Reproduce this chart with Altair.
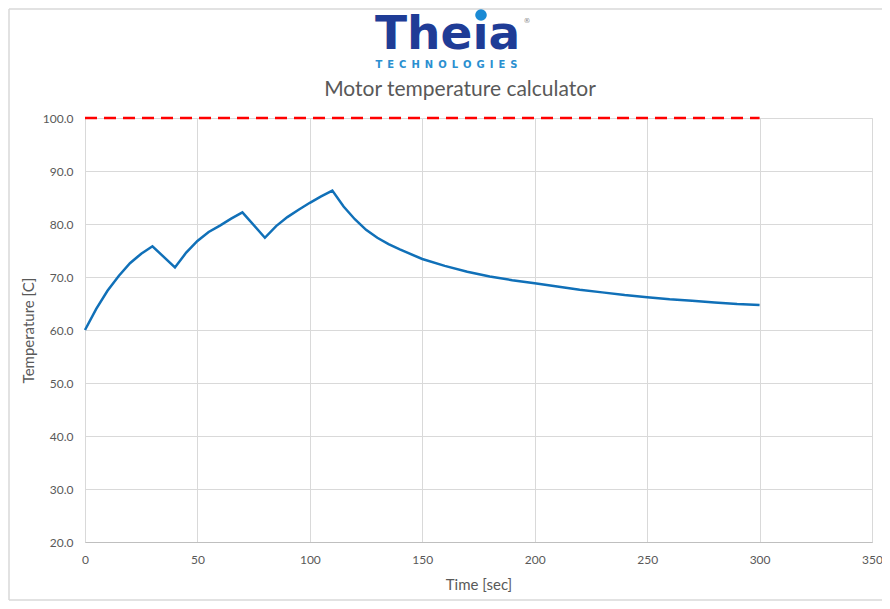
import altair as alt
import pandas as pd

# ---- data ----
time_sec = [0, 5, 10, 15, 20, 25, 30, 40, 45, 50, 55, 60, 65, 70, 80, 85, 90, 95,
            100, 105, 110, 115, 120, 125, 130, 135, 140, 150, 160, 170, 180, 190,
            200, 210, 220, 230, 240, 250, 260, 270, 280, 290, 300]
temperature = [60.0, 64.0, 67.4, 70.2, 72.6, 74.4, 75.8, 71.8, 74.6, 76.8, 78.5,
               79.7, 81.0, 82.2, 77.4, 79.6, 81.3, 82.7, 84.0, 85.2, 86.3, 83.3,
               80.9, 78.9, 77.4, 76.2, 75.2, 73.4, 72.1, 71.0, 70.1, 69.4, 68.8,
               68.2, 67.6, 67.1, 66.6, 66.2, 65.8, 65.5, 65.2, 64.9, 64.7]
limit_time = [0, 300]
limit_temp = [100.0, 100.0]

x_ticks = [0, 50, 100, 150, 200, 250, 300, 350]
y_ticks = [20, 30, 40, 50, 60, 70, 80, 90, 100]

title_text = "Motor temperature calculator"
logo_word = "The\u0131a"
logo_sub = "\u2002".join(list("TECHNOLOGIES"))

df = pd.DataFrame({"time": time_sec, "temp": temperature})
df_lim = pd.DataFrame({"time": limit_time, "temp": limit_temp})

W, H = 787, 424
PL, PT, PR, PB = 77, 110, 10, 59
GRAY = "#595959"
FONT = "Lato"

x_enc = alt.X("time:Q",
              scale=alt.Scale(domain=[0, 350], nice=False),
              axis=alt.Axis(values=x_ticks, title="Time [sec]", grid=True,
                            gridColor="#d9d9d9", ticks=False, tickSize=0,
                            domainColor="#bfbfbf", labelColor=GRAY,
                            labelFont=FONT, labelFontSize=12, labelPadding=12,
                            labelFlush=False, titleFont=FONT, titleFontSize=15,
                            titleFontWeight="normal", titleColor=GRAY,
                            titleX=W / 2, titleY=42, titleBaseline="middle"))
y_enc = alt.Y("temp:Q",
              scale=alt.Scale(domain=[20, 100], nice=False),
              axis=alt.Axis(values=y_ticks, format=".1f", title="Temperature [C]",
                            grid=True, gridColor="#d9d9d9", ticks=False, tickSize=0,
                            domain=False, labelColor=GRAY, labelFont=FONT,
                            labelFontSize=12, labelPadding=12, labelFlush=False,
                            titleFont=FONT, titleFontSize=15,
                            titleFontWeight="normal", titleColor=GRAY,
                            titleX=-57, titleY=H / 2, titleAngle=270,
                            titleBaseline="middle", titleAlign="center"))

line = alt.Chart(df).mark_line(color="#1070b8", strokeWidth=2.5).encode(x=x_enc, y=y_enc)

limit = alt.Chart(df_lim).mark_line(color="#ff0000", strokeWidth=2.5,
                                    strokeDash=[12, 7]).encode(
    x=alt.X("time:Q"), y=alt.Y("temp:Q"))

one = pd.DataFrame({"k": [0]})

title = alt.Chart(one).mark_text(font=FONT, fontSize=21, color=GRAY,
                                 align="center", baseline="alphabetic").encode(
    x=alt.value(375), y=alt.value(-22), text=alt.value(title_text))

logo = alt.Chart(one).mark_text(font="DejaVu Sans", fontWeight="bold", fontSize=47,
                                color="#1f3c96", align="left",
                                baseline="alphabetic").encode(
    x=alt.value(290), y=alt.value(-69), text=alt.value(logo_word))

logo_dot = alt.Chart(one).mark_point(filled=True, shape="circle", size=135,
                                     color="#1a8ad4", opacity=1).encode(
    x=alt.value(396), y=alt.value(-103))

logo_sub_t = alt.Chart(one).mark_text(font="DejaVu Sans", fontWeight="bold",
                                      fontSize=10, color="#2a8fd0", align="center",
                                      baseline="middle").encode(
    x=alt.value(361.5), y=alt.value(-53), text=alt.value(logo_sub))

reg = alt.Chart(one).mark_text(font="DejaVu Sans", fontSize=7, color="#888888",
                               align="center", baseline="middle").encode(
    x=alt.value(442), y=alt.value(-97), text=alt.value("\u00ae"))

# light chart-area frame (left, top, bottom edges)
frame_col = "#d9d9d9"
frame_left = alt.Chart(one).mark_rule(color=frame_col, strokeWidth=1.5).encode(
    x=alt.value(-PL + 1), y=alt.value(-PT + 1), y2=alt.value(H + PB - 1))
frame_top = alt.Chart(one).mark_rule(color=frame_col, strokeWidth=1.5).encode(
    x=alt.value(-PL + 1), x2=alt.value(W + PR), y=alt.value(-PT + 1))
frame_bottom = alt.Chart(one).mark_rule(color=frame_col, strokeWidth=1.5).encode(
    x=alt.value(-PL + 1), x2=alt.value(W + PR), y=alt.value(H + PB - 1))

chart = alt.layer(frame_left, frame_top, frame_bottom, line, limit, title, logo,
                  logo_dot, logo_sub_t, reg).properties(
    width=W, height=H,
    autosize=alt.AutoSizeParams(type="none"),
    padding={"left": PL, "top": PT, "right": PR, "bottom": PB},
).configure_view(stroke=None).configure(background="white")

chart.save("out.html", embed_options={"renderer": "svg", "actions": False})
